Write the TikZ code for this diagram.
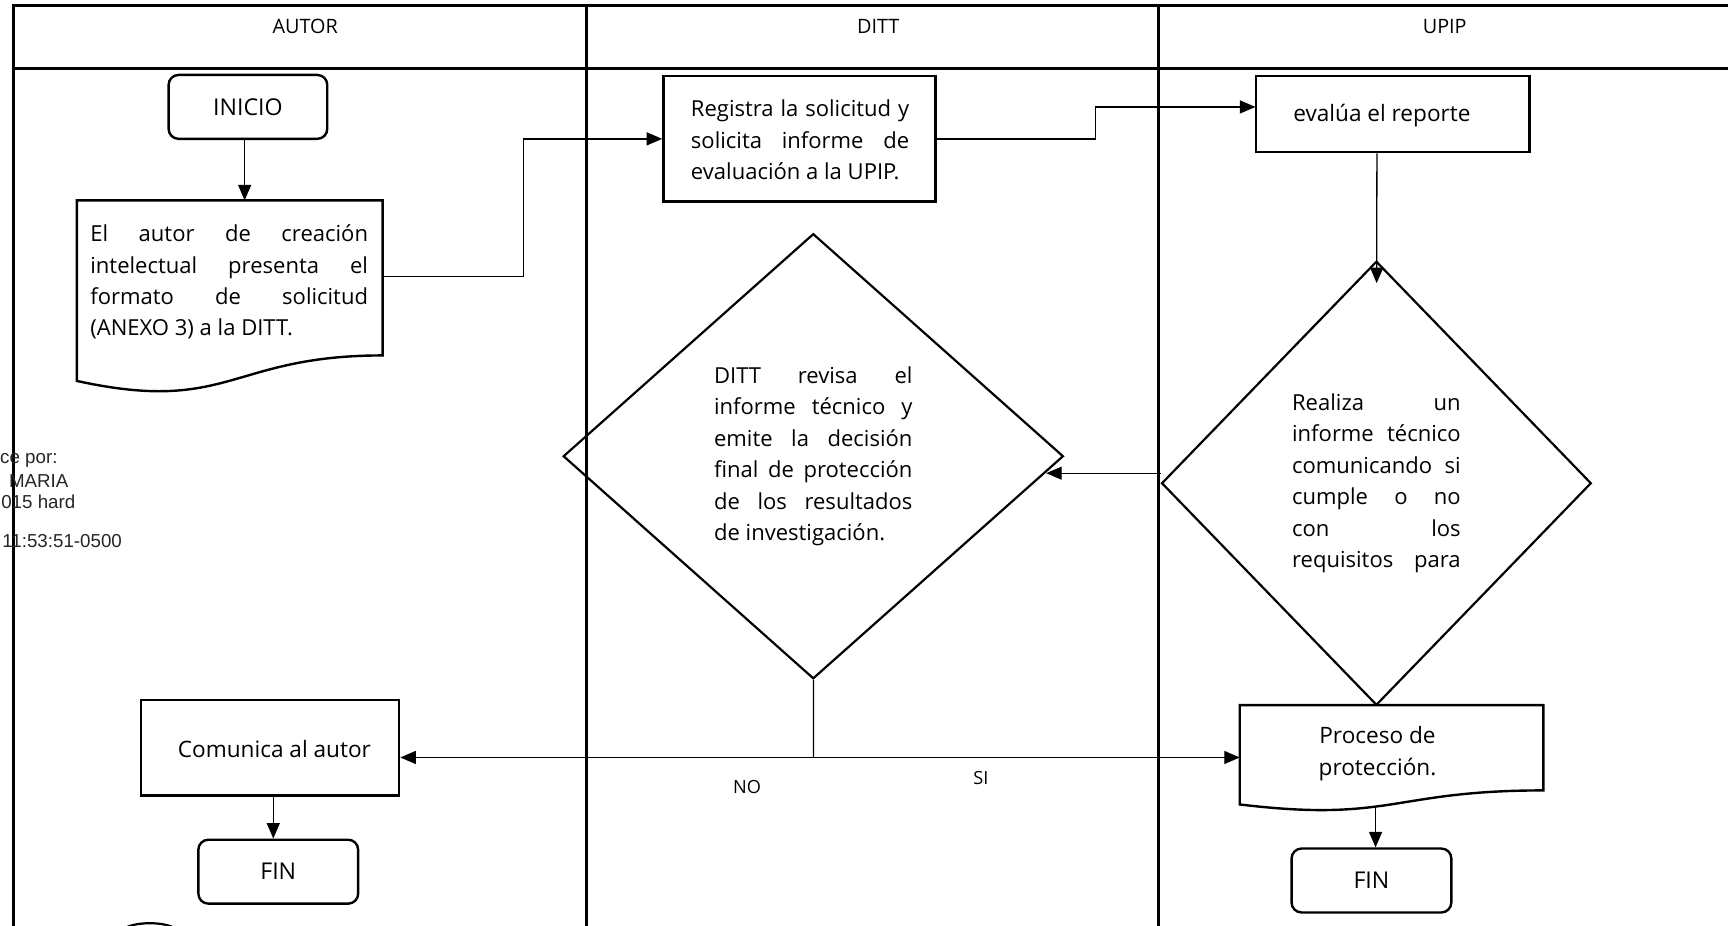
\documentclass[tikz,border=0pt]{standalone}
\usepackage{fontspec}
\setmainfont{Open Sans}
\newfontfamily\sigfont{Liberation Sans}
\usetikzlibrary{arrows.meta,shapes.geometric,calc}
\begin{document}
\begin{tikzpicture}[x=1pt,y=-1pt,scale=1.102,every node/.append style={transform shape},
  frame/.style={line width=2.7pt},
  box/.style={draw, line width=2.4pt, inner sep=0pt},
  term/.style={box, rounded corners=10pt},
  decision/.style={diamond, draw, line width=2.2pt, inner sep=0pt},
  conn/.style={line width=1.3pt},
  arr/.style={conn, -{Triangle[length=15.5pt,width=13pt]}},
  txt/.style={font=\fontsize{20}{28.5}\selectfont, align=left, inner sep=0pt},
  ctxt/.style={font=\fontsize{20.5}{28.5}\selectfont, align=center, inner sep=0pt},
  ttxt/.style={font=\fontsize{21}{24}\selectfont, align=center, inner sep=0pt},
  hdr/.style={font=\fontsize{18}{20}\selectfont, inner sep=0pt},
  lbl/.style={font=\fontsize{16.5}{18}\selectfont, inner sep=0pt},
  sig/.style={font=\sigfont\fontsize{17}{18}\selectfont, text=black!85, inner sep=0pt, anchor=west}]
\useasboundingbox (0,0) rectangle (1568.06,840.29);
\fill[white] (0,0) rectangle (1568.06,840.29);
% swimlane frame
\draw[frame] (1570,5) -- (12,5) -- (12,842);
\draw[frame] (12,62) -- (1570,62);
\draw[frame] (532,5) -- (532,842);
\draw[frame] (1051,5) -- (1051,842);
\node[hdr] (hautor) at (277,24) {AUTOR};
\node[hdr] (hditt) at (797,24) {DITT};
\node[hdr] (hupip) at (1311,24) {UPIP};
% signature fragment
\node[sig] (s1) at (0,418) {ce por:};
\node[sig] (s2) at (8,436.5) {MARIA};
\node[sig] (s3) at (1,455) {015 hard};
\node[sig] (s4) at (2,491) {11:53:51-0500};
% AUTOR lane
\node[term, minimum width=144pt, minimum height=58pt, ttxt] (inicio) at (225,97) {INICIO};
\node[minimum width=277pt, minimum height=175pt, inner sep=0pt] (autordoc) at (208.5,269.5) {};
\draw[line width=2.4pt] (autordoc.north west) -- (autordoc.north east)
  -- ($(autordoc.north east)!0.802!(autordoc.south east)$)
  .. controls ($(autordoc.north)!0.802!(autordoc.south)$) and ($(autordoc.north)!1.107!(autordoc.south)$)
  .. ($(autordoc.north west)!0.934!(autordoc.south west)$) -- cycle;
\node[txt] (autortxt) at (208,256) {\makebox[252pt][s]{El autor de creación}\\
  \makebox[252pt][s]{intelectual presenta el}\\
  \makebox[252pt][s]{formato de solicitud}\\
  \makebox[252pt][l]{(ANEXO 3) a la DITT.}};
\node[box, minimum width=234pt, minimum height=87pt] (comunica) at (245,678.5) {};
\node[ctxt] (comunicatxt) at (249,680) {Comunica al autor};
\node[term, minimum width=145pt, minimum height=58pt, ttxt] (fin1) at (252.5,791) {FIN};
% DITT lane
\node[box, minimum width=247pt, minimum height=114pt] (registra) at (725.5,126) {};
\node[txt] (registratxt) at (726,127) {\makebox[198pt][s]{Registra la solicitud y}\\
  \makebox[198pt][s]{solicita informe de}\\
  \makebox[198pt][l]{evaluación a la UPIP.}};
\node[decision, minimum width=454pt, minimum height=404pt, txt] (ld) at (738,414)
  {\makebox[180pt][s]{DITT revisa el}\\
   \makebox[180pt][s]{informe técnico y}\\
   \makebox[180pt][s]{emite la decisión}\\
   \makebox[180pt][s]{final de protección}\\
   \makebox[180pt][s]{de los resultados}\\
   \makebox[180pt][l]{de investigación.}};
\node[lbl] (no) at (678,714) {NO};
\node[lbl] (si) at (890,706) {SI};
% UPIP lane
\node[box, minimum width=248pt, minimum height=69pt] (eval) at (1264,103.5) {};
\node[font=\fontsize{20.5}{24}\selectfont, inner sep=0pt] (evaltxt) at (1254,105) {evalúa el reporte};
\node[decision, minimum width=390pt, minimum height=403pt, txt] (rd) at (1249,438.5)
  {\makebox[153pt][s]{Realiza un}\\
   \makebox[153pt][s]{informe técnico}\\
   \makebox[153pt][s]{comunicando si}\\
   \makebox[153pt][s]{cumple o no}\\
   \makebox[153pt][s]{con los}\\
   \makebox[153pt][s]{requisitos para}};
\node[minimum width=275pt, minimum height=96pt, inner sep=0pt] (proceso) at (1262.5,688) {};
\draw[line width=2.4pt, fill=white] (proceso.north west) -- (proceso.north east)
  -- ($(proceso.north east)!0.802!(proceso.south east)$)
  .. controls ($(proceso.north)!0.802!(proceso.south)$) and ($(proceso.north)!1.107!(proceso.south)$)
  .. ($(proceso.north west)!0.934!(proceso.south west)$) -- cycle;
\node[ctxt] (procesotxt) at (1250,684) {Proceso de\\protección.};
\node[term, minimum width=145pt, minimum height=58pt, ttxt] (fin2) at (1244.5,799) {FIN};
% connectors
\draw[arr] (inicio.south -| 222,0) -- (autordoc.north -| 222,0);
\coordinate (a1) at ($(autordoc.north east)+(0,69)$);
\draw[arr] (a1) -- ++(128,0) |- (registra.west);
\coordinate (e1) at ($(eval.west)+(0,-6.5)$);
\draw[arr] (registra.east) -- ++(144,0) |- (e1);
\coordinate (e2) at (eval.south -| rd.north);
\draw[arr] (e2) -- ($(rd.north)+(0,21)$);
\coordinate (ldhit) at ($(ld.east)!0.075!(ld.south)$);
\draw[arr] (ldhit -| rd.west) -- (ldhit);
\coordinate (split) at ($(ld.south)+(0,70)$);
\draw[conn] (ld.south) -- (split);
\draw[arr] (split) -- (split -| comunica.east);
\draw[arr] (split) -- (split -| proceso.west);
\draw[arr] (comunica.south -| 248,0) -- (fin1.north -| 248,0);
\coordinate (pbot) at (1248,731);
\draw[arr] (pbot) -- (pbot |- fin2.north);
% fragment at bottom edge
\draw[line width=2.2pt] (112,843) .. controls (122,836) and (150,836) .. (160,843);
\end{tikzpicture}
\end{document}
